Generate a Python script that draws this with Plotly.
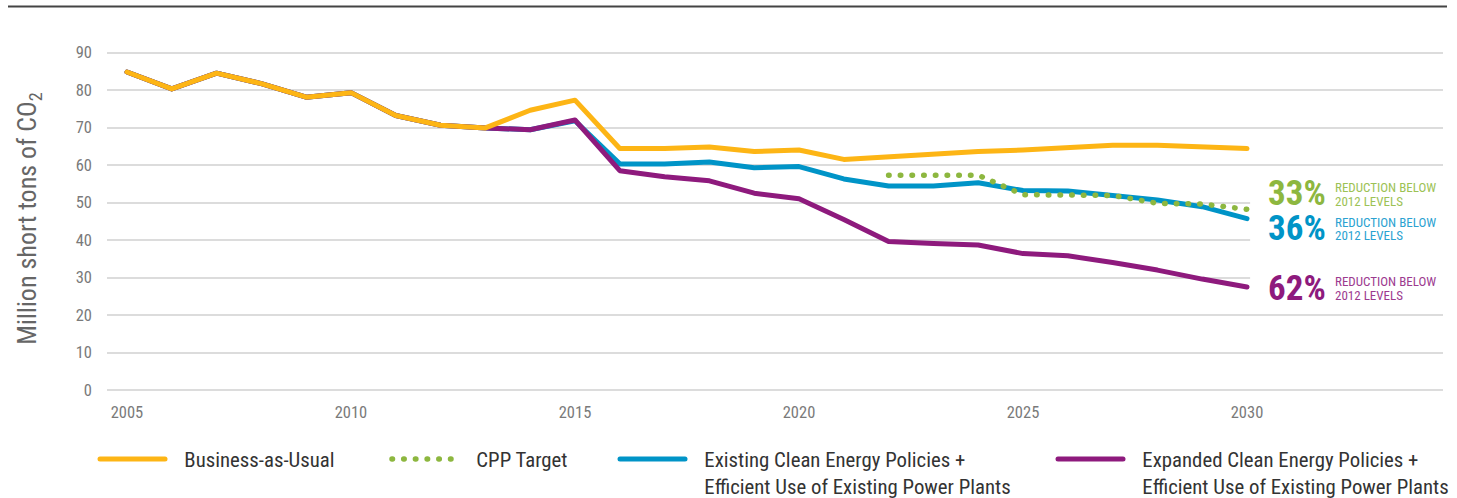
import plotly.graph_objects as go

years = list(range(2005, 2031))

bau = [84.8, 80.3, 84.5, 81.7, 78.1, 79.3, 73.2, 70.6, 69.9, 74.6, 77.3,
       64.4, 64.4, 64.8, 63.6, 64.0, 61.5, 62.3, 62.8, 63.6, 64.0,
       64.8, 65.3, 65.3, 64.9, 64.4]
existing = [84.8, 80.3, 84.5, 81.7, 78.1, 79.3, 73.2, 70.6, 69.9, 69.4, 71.8,
            60.3, 60.3, 60.8, 59.3, 59.6, 56.3, 54.4, 54.4, 55.3, 53.2,
            53.1, 51.9, 50.7, 48.9, 45.7]
expanded = [84.8, 80.3, 84.5, 81.7, 78.1, 79.3, 73.2, 70.6, 69.9, 69.4, 72.0,
            58.5, 56.9, 55.8, 52.5, 51.0, 45.5, 39.6, 39.1, 38.7, 36.4,
            35.8, 34.0, 32.0, 29.6, 27.5]
cpp = [None] * 17 + [57.3, 57.3, 57.3, 52.1, 52.1, 51.9, 49.8, 49.6, 48.2]

SP = "\u00a0\u00a0\u00a0"
names = [SP + "Business-as-Usual", SP + "CPP Target",
         SP + "Existing Clean Energy Policies +<br>" + SP + "Efficient Use of Existing Power Plants",
         SP + "Expanded Clean Energy Policies +<br>" + SP + "Efficient Use of Existing Power Plants"]
colors = ["#FDB515", "#8DB73F", "#0094C7", "#8E1A7D"]

pct_labels = ["33%", "36%", "62%"]
pct_colors = ["#8DB73F", "#0094C7", "#8E1A7D"]
small_colors = ["#9CC255", "#2BA2D1", "#9C3A8F"]
pct_y = [52.3, 43.1, 27.2]
sub_line1 = "REDUCTION BELOW"
sub_line2 = "2012 LEVELS"

FONT = "Liberation Sans Narrow, Roboto Condensed, Arial Narrow, Roboto, sans-serif"

fig = go.Figure()
fig.add_trace(go.Scatter(x=years, y=existing, mode="lines", name=names[2],
                         line=dict(color=colors[2], width=5), legend="legend3"))
fig.add_trace(go.Scatter(x=years, y=expanded, mode="lines", name=names[3],
                         line=dict(color=colors[3], width=5), legend="legend4"))
fig.add_trace(go.Scatter(x=years, y=bau, mode="lines", name=names[0],
                         line=dict(color=colors[0], width=5), legend="legend"))
fig.add_trace(go.Scatter(x=years, y=cpp, mode="lines", name=names[1],
                         line=dict(color=colors[1], width=5.5, dash="0.5px,11.2px"),
                         legend="legend2"))

L, R, T, B = 107, 14, 45, 106
W, H = 1457, 498
pw, ph = W - L - R, H - T - B


def px2x(px):
    return (px - L) / pw


def py2y(py):
    return (H - B - py) / ph


legend_common = dict(orientation="v", xanchor="left", yanchor="top",
                     bgcolor="rgba(0,0,0,0)", borderwidth=0, itemwidth=65,
                     valign="top",
                     font=dict(family=FONT, size=20.8, color="#333333"))
fig.update_layout(
    legend=dict(x=px2x(95), y=py2y(439), **legend_common),
    legend2=dict(x=px2x(387), y=py2y(439), **legend_common),
    legend3=dict(x=px2x(615), y=py2y(439), **legend_common),
    legend4=dict(x=px2x(1053), y=py2y(439), **legend_common),
)

annotations = []
for lab, c, sc, yv in zip(pct_labels, pct_colors, small_colors, pct_y):
    annotations.append(dict(x=2030.42, y=yv, xref="x", yref="y", text="<b>" + lab + "</b>",
                            showarrow=False, xanchor="left", yanchor="middle",
                            font=dict(family=FONT, size=35, color=c)))
    annotations.append(dict(x=2031.92, y=yv + 1.7, xref="x", yref="y", text=sub_line1,
                            showarrow=False, xanchor="left", yanchor="middle",
                            font=dict(family=FONT, size=13, color=sc)))
    annotations.append(dict(x=2031.92, y=yv - 1.9, xref="x", yref="y", text=sub_line2,
                            showarrow=False, xanchor="left", yanchor="middle",
                            font=dict(family=FONT, size=13, color=sc)))

fig.update_layout(
    width=W, height=H,
    margin=dict(l=L, r=R, t=T, b=B, autoexpand=False),
    paper_bgcolor="white", plot_bgcolor="white",
    showlegend=True,
    font=dict(family=FONT, color="#7F7F7F"),
    xaxis=dict(range=[2004.554, 2034.375], tickvals=[2005, 2010, 2015, 2020, 2025, 2030],
               showgrid=False, zeroline=False, showline=False, ticks="",
               ticklabelstandoff=8,
               tickfont=dict(family=FONT, size=16.5, color="#7A7A7A")),
    yaxis=dict(range=[-0.5, 92], tickvals=[0, 10, 20, 30, 40, 50, 60, 70, 80, 90],
               showgrid=True, gridcolor="#DCDCDC", gridwidth=1.5,
               zeroline=False, showline=False, ticks="", ticklabelstandoff=14,
               tickfont=dict(family=FONT, size=16.5, color="#7A7A7A"),
               title=dict(text="Million short tons of CO<sub>2</sub>", standoff=31,
                          font=dict(family=FONT, size=26, color="#666666"))),
    annotations=annotations,
    shapes=[
        dict(type="line", xref="paper", yref="paper", x0=px2x(8), x1=px2x(1447),
             y0=py2y(6.5), y1=py2y(6.5), line=dict(color="#444444", width=2)),
        dict(type="rect", xref="x", yref="y", x0=2030.07, x1=2034.375, y0=24.5, y1=57.5,
             fillcolor="white", line=dict(width=0), layer="between"),
    ],
)

post = """
document.body.style.margin = '0';
document.body.style.padding = '0';
var gd = document.getElementById('{plot_id}');
function fixCaps(){
  gd.querySelectorAll('.scatterlayer path.js-line, .legendlines path').forEach(function(p){
    p.style.strokeLinecap = 'round'; p.style.strokeLinejoin = 'round';
  });
}
fixCaps(); setTimeout(fixCaps, 30); setTimeout(fixCaps, 300);
if (gd.on) { gd.on('plotly_afterplot', fixCaps); }
"""

fig.write_html("out.html", post_script=post, config={"displayModeBar": False})
